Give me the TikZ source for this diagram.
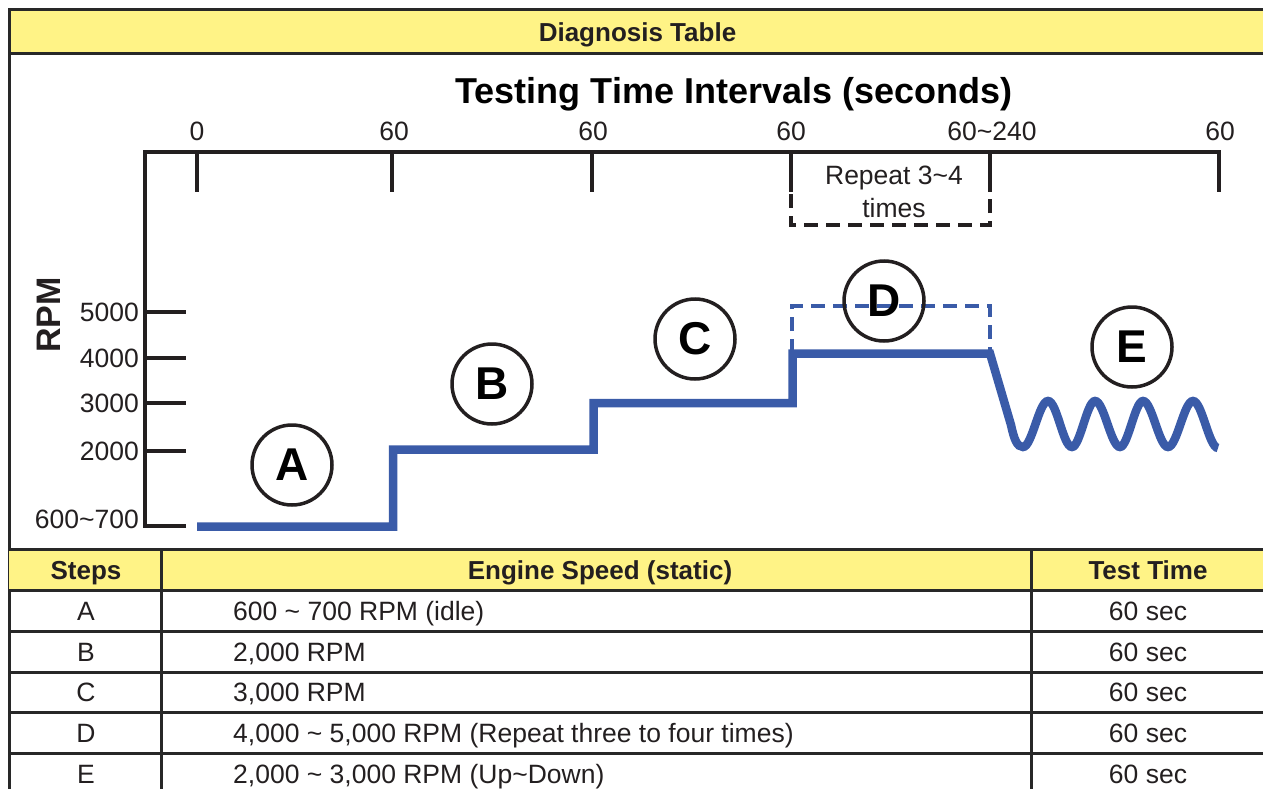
\documentclass[tikz,border=0pt]{standalone}
\usepackage{fontspec}
\setmainfont{Liberation Sans}
\definecolor{yel}{RGB}{255,243,134}
\definecolor{bluec}{RGB}{58,91,168}
\definecolor{linec}{RGB}{35,31,32}
\definecolor{tblc}{RGB}{40,40,40}
\tikzset{
  ax/.style={line width=4pt, draw=linec},
  tbl/.style={line width=3pt, draw=tblc},
  bl/.style={line width=8.5pt, draw=bluec},
  bdash/.style={line width=3.5pt, draw=bluec, dash pattern=on 14pt off 8pt},
  kdash/.style={line width=3.5pt, draw=linec, dash pattern=on 14pt off 8pt},
  circ/.style={circle, draw=linec, line width=3.5pt, minimum size=80pt, inner sep=0pt, font=\fontsize{46}{46}\selectfont\bfseries},
  txt/.style={font=\fontsize{26.5}{30}\selectfont, inner sep=0pt, text=linec},
  btxt/.style={font=\fontsize{26}{30}\selectfont\bfseries, inner sep=0pt, text=linec},
}
\begin{document}
\begin{tikzpicture}[x=1pt,y=-1pt]
\useasboundingbox (0,0) rectangle (1263,789);
% header band
\fill[yel] (9,10) rectangle (1263,54);
\draw[tbl] (1263,10) -- (9,10) -- (9,789);
\draw[tbl] (9,54) -- (1263,54);
\node[btxt, anchor=base] (diag) at (637.5,41.5) {Diagnosis Table};
% title
\node[anchor=base, inner sep=0pt, font=\fontsize{36}{40}\selectfont\bfseries] (title) at (734,104) {Testing Time Intervals (seconds)};
% top tick labels
\node[txt, anchor=base] (t0) at (197,140) {0};
\node[txt, anchor=base] (t1) at (394,140) {60};
\node[txt, anchor=base] (t2) at (593,140) {60};
\node[txt, anchor=base] (t3) at (791,140) {60};
\node[txt, anchor=base] (t4) at (992,140) {60\char"007E 240};
\node[txt, anchor=base] (t5) at (1220,140) {60};
% axes
\draw[ax, line join=miter] (186,526) -- (145,526) -- (145,152) -- (1219,152) -- (1219,192);
\foreach \x in {197,392,592,791,990} \draw[ax] (\x,152) -- (\x,192);
\foreach \y in {312,358,403,451} \draw[ax] (145,\y) -- (186,\y);
% y labels
\node[txt, anchor=base east] (y5) at (139,321) {5000};
\node[txt, anchor=base east] (y4) at (139,367) {4000};
\node[txt, anchor=base east] (y3) at (139,412) {3000};
\node[txt, anchor=base east] (y2) at (139,460) {2000};
\node[txt, anchor=base east] (y0) at (139,528) {600\char"007E 700};
\node[inner sep=0pt, rotate=90, font=\fontsize{34}{36}\selectfont\bfseries, text=linec] (rpm) at (49,315) {RPM};
% repeat box
\draw[kdash] (791,194) -- (791,225) -- (990,225) -- (990,194);
\node[txt, anchor=base] (rep1) at (894,184) {Repeat 3\char"007E 4};
\node[txt, anchor=base] (rep2) at (894,217) {times};
% blue dashed D box
\draw[bdash] (792,353) -- (792,306) -- (990,306) -- (990,353);
% blue line
\draw[bl, line join=miter] (197,526.5) -- (393,526.5) -- (393,449.5) -- (593.5,449.5) -- (593.5,403) -- (792.5,403) -- (792.5,353.5) -- (990,353.5)
  -- (1011,425) .. controls (1014,439) and (1017,447) .. (1023,447)
  .. controls (1032,447) and (1039,401) .. (1048,401)
  .. controls (1057,401) and (1063,447) .. (1072,447)
  .. controls (1080,447) and (1087,401) .. (1095,401)
  .. controls (1104,401) and (1111,447) .. (1120,447)
  .. controls (1128,447) and (1135,401) .. (1143,401)
  .. controls (1152,401) and (1159,447) .. (1168,447)
  .. controls (1177,447) and (1184,401) .. (1193,401)
  .. controls (1202,401) and (1209,448) .. (1218,448);
% circles
\node[circ] (cA) at (292,465) {A};
\node[circ] (cB) at (492,384) {B};
\node[circ] (cC) at (695,339) {C};
\node[circ] (cD) at (884,301) {D};
\node[circ] (cE) at (1132,347) {E};
% table
\fill[yel] (9,549) rectangle (1263,590);
\foreach \y in {549,590,631,672,712,753} \draw[tbl] (9,\y) -- (1263,\y);
\draw[tbl] (161,549) -- (161,789);
\draw[tbl] (1031,549) -- (1031,789);
\node[btxt, anchor=base] (hs) at (86,579) {Steps};
\node[btxt, anchor=base] (he) at (600,579) {Engine Speed (static)};
\node[btxt, anchor=base] (ht) at (1148,579) {Test Time};
\node[txt, anchor=base] (sA) at (86,620) {A};
\node[txt, anchor=base] (sB) at (86,661) {B};
\node[txt, anchor=base] (sC) at (86,701.5) {C};
\node[txt, anchor=base] (sD) at (86,742) {D};
\node[txt, anchor=base] (sE) at (86,783) {E};
\node[txt, anchor=base west] (eA) at (233,620) {600 \char"007E{} 700 RPM (idle)};
\node[txt, anchor=base west] (eB) at (233,661) {2,000 RPM};
\node[txt, anchor=base west] (eC) at (233,701.5) {3,000 RPM};
\node[txt, anchor=base west] (eD) at (233,742) {4,000 \char"007E{} 5,000 RPM (Repeat three to four times)};
\node[txt, anchor=base west] (eE) at (233,783) {2,000 \char"007E{} 3,000 RPM (Up\char"007E Down)};
\foreach \y/\n in {620/A,661/B,701.5/C,742/D,783/E} \node[txt, anchor=base] (tt\n) at (1148,\y) {60 sec};
\end{tikzpicture}
\end{document}
